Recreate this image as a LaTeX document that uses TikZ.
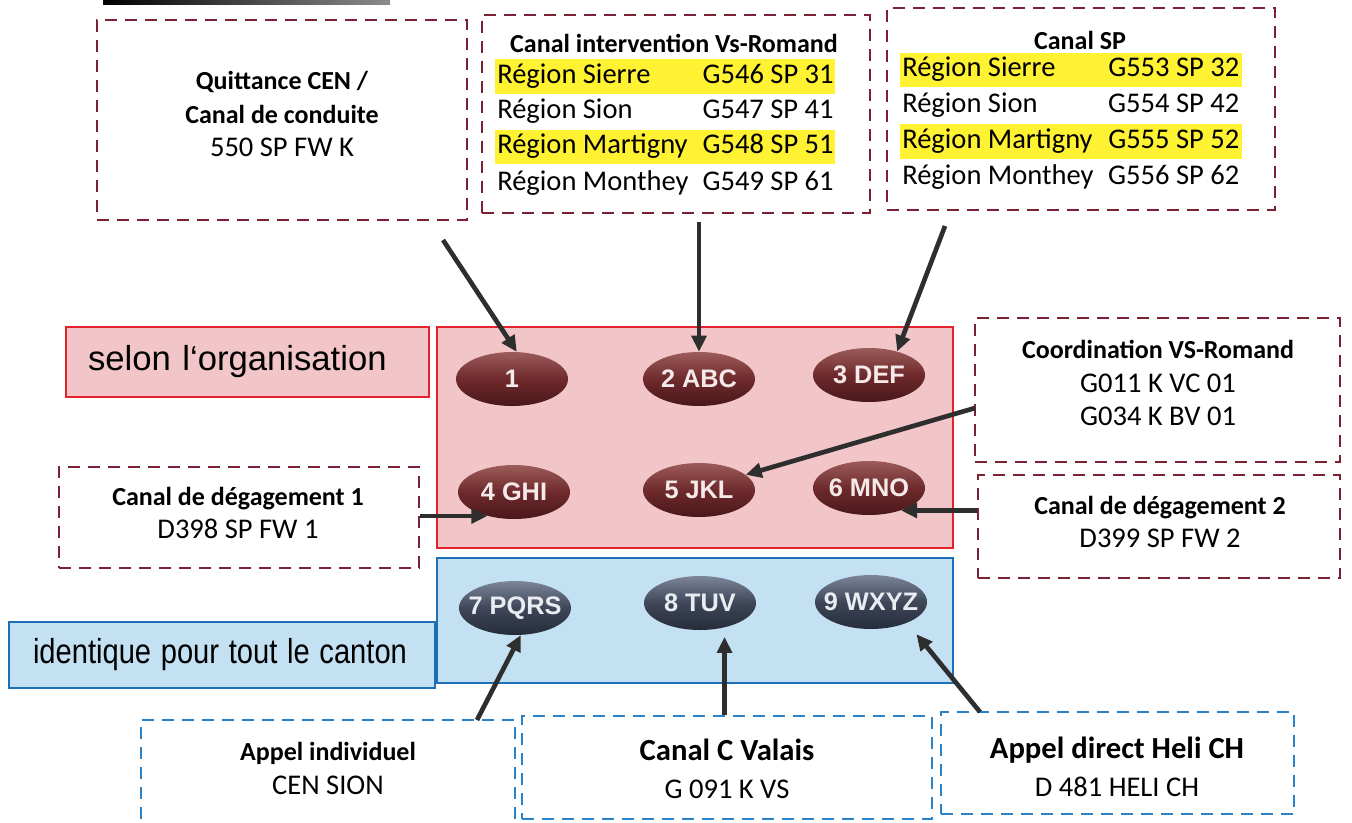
\documentclass[tikz,border=0pt]{standalone}
\usepackage{fontspec}
\usepackage{graphicx}
\setmainfont{Carlito}
\newfontfamily\arialfont{Liberation Sans}
\usepackage{tikz}
\usetikzlibrary{arrows.meta,shapes.geometric,positioning}

\definecolor{framered}{HTML}{7A2233}
\definecolor{frameblue}{HTML}{2A82C8}
\definecolor{padred}{HTML}{E4222B}
\definecolor{padpink}{HTML}{F2C6C9}
\definecolor{padblue}{HTML}{1D6FB8}
\definecolor{padsky}{HTML}{C3E1F2}
\definecolor{hlyellow}{HTML}{FFF233}
\definecolor{arrowgrey}{HTML}{2E2E2E}
\definecolor{keyredtop}{HTML}{9C5C5A}
\definecolor{keyredmid}{HTML}{6E2A2C}
\definecolor{keyredbot}{HTML}{4A1719}
\definecolor{keyredtext}{HTML}{F6E9E9}
\definecolor{keybltop}{HTML}{7C8698}
\definecolor{keyblmid}{HTML}{3E4658}
\definecolor{keyblbot}{HTML}{262C3A}
\definecolor{keybltext}{HTML}{E9EDF2}

\newcommand{\boxhead}[1]{{\fontsize{19.5pt}{25pt}\selectfont\bfseries #1}}

\begin{document}
\begin{tikzpicture}
		[
			x=0.75pt, y=-0.75pt,
			align=center,
			frame/.style={draw=framered, dash pattern=on 9pt off 6pt, line width=2.2pt, inner sep=0pt},
			framebl/.style={frame, draw=frameblue},
			txt/.style={inner sep=0pt, font=\fontsize{21.4pt}{25pt}\selectfont},
			row/.style={anchor=west, text height=17pt, text depth=7pt,
				inner xsep=1.5pt, inner ysep=1pt, font=\fontsize{21.4pt}{25pt}\selectfont},
			hl/.style={row, fill=hlyellow},
			pad/.style={draw=padred, fill=padpink, line width=2.2pt, inner sep=0pt},
			padbl/.style={pad, draw=padblue, fill=padsky},
			key/.style={ellipse, minimum width=84pt, minimum height=40.5pt, inner sep=0pt,
				font=\arialfont\bfseries\fontsize{19pt}{19pt}\selectfont},
			keyred/.style={key, top color=keyredtop, bottom color=keyredbot, middle color=keyredmid, text=keyredtext},
			keybl/.style={key, top color=keybltop, bottom color=keyblbot, middle color=keyblmid, text=keybltext},
			arrow/.style={-{Triangle[length=12pt,width=11pt]}, line width=3.5pt, draw=arrowgrey}
		]

		\useasboundingbox (0,0) rectangle (1352,822);
		\clip (0,0) rectangle (1352,822);

		% header strip, cut off at the top
		\fill[left color=black, right color=black!45] (103,0) rectangle (390,4);

		% panels
		\node[pad, minimum width=272.25pt, minimum height=52.5pt, text width=239.25pt, inner xsep=16.5pt,
			align=left, font=\arialfont\fontsize{26pt}{30pt}\selectfont] (org) at (247.5,362) {selon l‘organisation};
		\node[padbl, minimum width=319.5pt, minimum height=49.5pt, text width=283.5pt, inner xsep=18pt,
			align=left, font=\arialfont\fontsize{26pt}{30pt}\selectfont] (canton) at (222,655)
			{\mbox{\scalebox{0.84}[1]{identique pour tout le canton}}};
		\node[pad, minimum width=387pt, minimum height=165.75pt]	(redkeys)  at ( 695, 437.5 ) {};
		\node[padbl, minimum width=387pt, minimum height=93.75pt]	(bluekeys) at ( 695, 620.5 ) {};

		% keys
		\node[keyred]	(K1) at ( 512, 379 ) {\makebox[0pt]{1}};
		\node[keyred]	(K2) at ( 699, 379 ) {\makebox[0pt]{2 ABC}};
		\node[keyred]	(K3) at ( 869, 375 ) {\makebox[0pt]{3 DEF}};
		\node[keyred]	(K4) at ( 514, 492 ) {\makebox[0pt]{4 GHI}};
		\node[keyred]	(K5) at ( 699, 490 ) {\makebox[0pt]{5 JKL}};
		\node[keyred]	(K6) at ( 869, 488 ) {\makebox[0pt]{6 MNO}};
		\node[keybl]	(K7) at ( 515, 608 ) {\makebox[0pt]{7 PQRS}};
		\node[keybl]	(K8) at ( 700, 603 ) {\makebox[0pt]{8 TUV}};
		\node[keybl]	(K9) at ( 871, 602 ) {\makebox[0pt]{9 WXYZ}};

		% channel frames
		\node[frame, minimum width=277.5pt, minimum height=150pt]		(quit)  at ( 282, 120 )   {};
		\node[frame, minimum width=291pt, minimum height=148.5pt]		(inter) at ( 676, 114 )   {};
		\node[frame, minimum width=291pt, minimum height=151.5pt]		(sp)    at ( 1081, 109 )  {};
		\node[frame, minimum width=273.75pt, minimum height=108pt]		(coord) at ( 1157.5, 390 ) {};
		\node[frame, minimum width=271.5pt, minimum height=77.25pt]		(deg2)  at ( 1159, 526.5 ) {};
		\node[frame, minimum width=270pt, minimum height=75.75pt]		(deg1)  at ( 239, 517.5 ) {};
		\node[framebl, minimum width=280.5pt, minimum height=93.75pt]	(indiv) at ( 328, 782.5 ) {};
		\node[framebl, minimum width=307.5pt, minimum height=77.25pt]	(valais) at ( 727, 767.5 ) {};
		\node[framebl, minimum width=264.75pt, minimum height=76.5pt]	(heli)  at ( 1117.5, 763 ) {};

		% frame texts
		\node[txt] (quitT)   at ( 282, 114 )  {\boxhead{Quittance CEN /}\\ \boxhead{Canal de conduite}\\ 550 SP FW K};
		\node[txt] (coordT)  at ( 1158, 383 ) {\boxhead{Coordination VS-Romand}\\ G011 K VC 01\\ G034 K BV 01};
		\node[txt] (deg2T)   at ( 1160, 522 ) {\boxhead{Canal de dégagement 2}\\ D399 SP FW 2};
		\node[txt] (deg1T)   at ( 238, 513 )  {\boxhead{Canal de dégagement 1}\\ D398 SP FW 1};
		\node[txt, font=\fontsize{21.4pt}{25.5pt}\selectfont] (indivT) at ( 328, 768 ) {\boxhead{Appel individuel}\\ CEN SION};
		\node[txt, font=\fontsize{21.4pt}{28.5pt}\selectfont] (valaisT) at ( 727, 769 )
			{{\fontsize{23pt}{28.5pt}\selectfont\bfseries Canal C Valais}\\ G 091 K VS};
		\node[txt, font=\fontsize{21.4pt}{28.5pt}\selectfont] (heliT) at ( 1117, 767 )
			{{\fontsize{23pt}{28.5pt}\selectfont\bfseries Appel direct Heli CH}\\ D 481 HELI CH};

		% region tables
		\node[txt, font=\fontsize{19.5pt}{25pt}\selectfont\bfseries] (interT) at ( 674, 43 ) {Canal intervention Vs-Romand};
		\node[hl]  (inter1) at ( 495, 76.5 )  {\makebox[252pt][l]{\makebox[154pt][l]{Région Sierre}G546 SP 31}};
		\node[row] (inter2) at ( 495, 112 )   {\makebox[252pt][l]{\makebox[154pt][l]{Région Sion}G547 SP 41}};
		\node[hl]  (inter3) at ( 495, 147 )   {\makebox[252pt][l]{\makebox[154pt][l]{Région Martigny}G548 SP 51}};
		\node[row] (inter4) at ( 495, 183.5 ) {\makebox[252pt][l]{\makebox[154pt][l]{Région Monthey}G549 SP 61}};

		\node[txt, font=\fontsize{19.5pt}{25pt}\selectfont\bfseries] (spT) at ( 1080, 40 ) {Canal SP};
		\node[hl]  (sp1) at ( 900, 70 )    {\makebox[253.5pt][l]{\makebox[154.5pt][l]{Région Sierre}G553 SP 32}};
		\node[row] (sp2) at ( 900, 106 )   {\makebox[253.5pt][l]{\makebox[154.5pt][l]{Région Sion}G554 SP 42}};
		\node[hl]  (sp3) at ( 900, 141.5 ) {\makebox[253.5pt][l]{\makebox[154.5pt][l]{Région Martigny}G555 SP 52}};
		\node[row] (sp4) at ( 900, 177.5 ) {\makebox[253.5pt][l]{\makebox[154.5pt][l]{Région Monthey}G556 SP 62}};

		% arrow starts
		\coordinate (fromQuit)  at ( 443, 240 );
		\coordinate (fromInter) at ( 699, 222 );
		\coordinate (fromSp)    at ( 945, 226 );
		\coordinate (fromCoord) at ( 975, 408 );
		\coordinate (fromIndiv) at ( 477, 720 );
		\coordinate (fromHeli)  at ( 980, 712 );

		% arrows
		\foreach \from/\to in
		{fromQuit/K1.80,fromInter/K2.north,fromSp/K3.40,fromCoord/K5.18,fromIndiv/K7.282}
		\draw[arrow] (\from) -- (\to);

		\draw[arrow] (deg1.east |- K4.222) -- (K4.222);
		\draw[arrow] (deg2.west |- K6.325) -- (K6.325);
		\draw[arrow, shorten >=7pt] (valais.north -| K8.315) -- (K8.315);
		\draw[arrow, shorten >=11pt] (fromHeli) -- (K9.330);

	\end{tikzpicture}
\end{document}
